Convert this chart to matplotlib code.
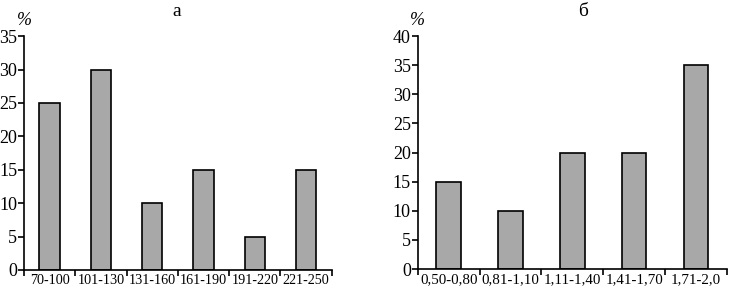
import numpy as np
import matplotlib.pyplot as plt

plt.rcParams['font.family'] = ['Liberation Serif', 'DejaVu Serif']

# panel a
cats_a = ['70-100', '101-130', '131-160', '161-190', '191-220', '221-250']
vals_a = [25, 30, 10, 15, 5, 15]
# panel б
cats_b = ['0,50-0,80', '0,81-1,10', '1,11-1,40', '1,41-1,70', '1,71-2,0']
vals_b = [15, 10, 20, 20, 35]


def draw(ax, cats, vals, ymax, title, title_x, xfs):
    x = np.arange(len(cats))
    ax.bar(x, vals, width=0.4, color='#a8a8a8', edgecolor='black', linewidth=1.2)
    ax.set_xlim(-0.5, len(cats) - 0.5)
    ax.set_ylim(0, ymax)
    ax.set_yticks(np.arange(0, ymax + 1, 5))
    ax.set_xticks(x)
    ax.set_xticklabels(cats, fontsize=xfs)
    ax.set_xticks(np.arange(-0.5, len(cats), 1), minor=True)
    ax.tick_params(axis='x', which='major', length=0, pad=3)
    ax.tick_params(axis='x', which='minor', length=4, width=1.2, direction='out')
    ax.tick_params(axis='y', length=4, width=1.2, direction='out', labelsize=13, pad=1)
    for s in ['top', 'right']:
        ax.spines[s].set_visible(False)
    for s in ['left', 'bottom']:
        ax.spines[s].set_linewidth(1.2)
    ax.text(0, 1.03, '%', transform=ax.transAxes, ha='center', va='bottom',
            fontsize=13, style='italic')
    ax.figure.text(title_x, 0.99, title, ha='center', va='top', fontsize=14)


fig = plt.figure(figsize=(7.29, 2.89), dpi=100)
ax1 = fig.add_axes([0.033, 0.066, 0.422, 0.809])
ax2 = fig.add_axes([0.573, 0.069, 0.424, 0.806])
draw(ax1, cats_a, vals_a, 35, 'а', 0.243, 10.2)
draw(ax2, cats_b, vals_b, 40, 'б', 0.80, 10.8)
fig.savefig('out.png', dpi=100)
